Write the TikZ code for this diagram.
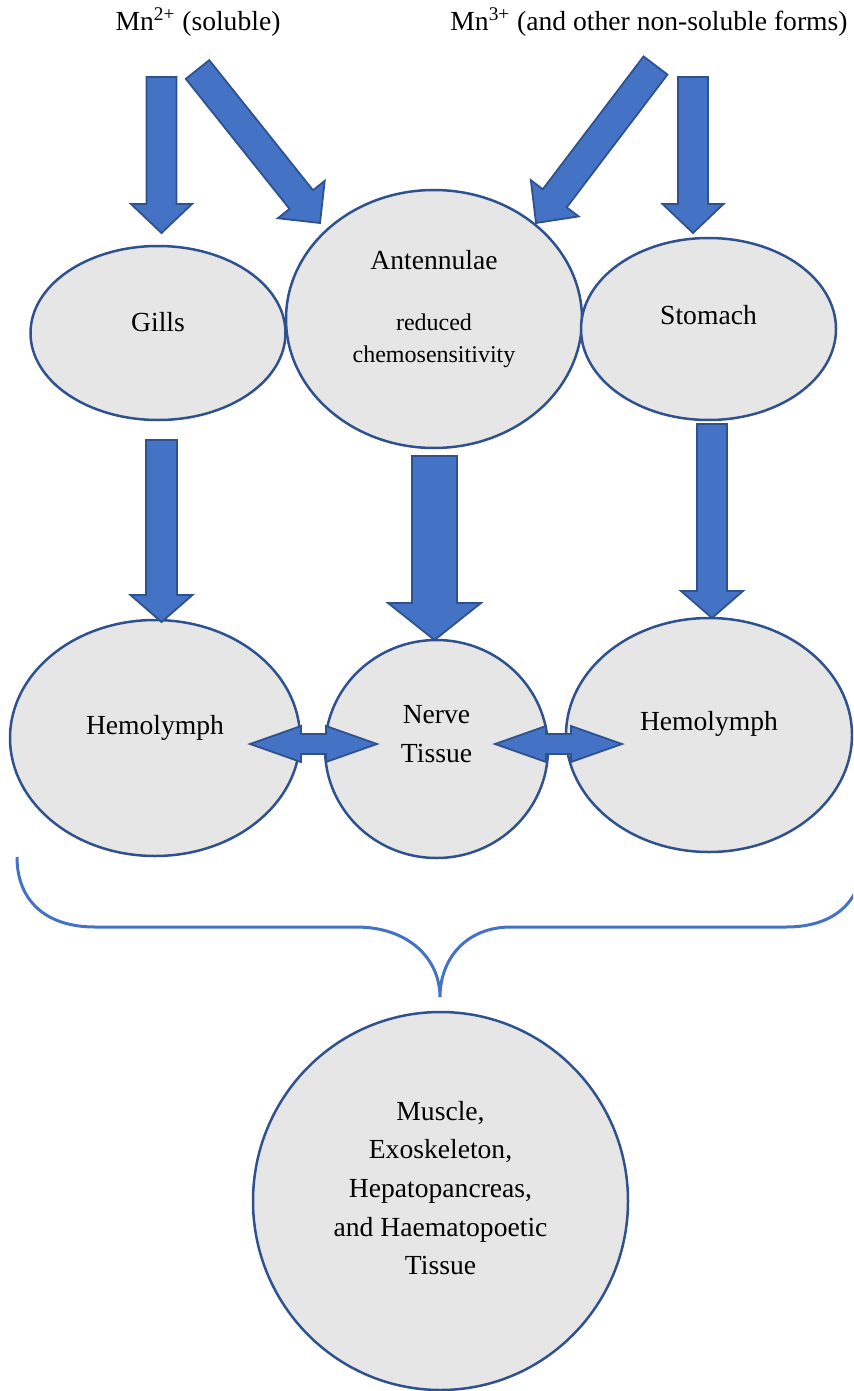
\documentclass[tikz,border=0pt]{standalone}
\usepackage{fontspec}
\setmainfont{Liberation Serif}
\newfontfamily\timesfont{Liberation Serif}
\usetikzlibrary{calc,shapes.geometric}

\definecolor{arrowblue}{HTML}{4472C4}
\definecolor{edgeblue}{HTML}{2F528F}
\definecolor{organgray}{HTML}{E7E6E6}

% block arrow: tail, tip, shaft half width, head half width, head length
\newcommand{\blockarrow}[5]{%
  \coordinate (bahead) at ($(#2)!#5!(#1)$);
  \filldraw[arrowbody] ($(#1)!#3!90:(#2)$) -- ($(bahead)!#3!90:(#2)$) -- ($(bahead)!#4!90:(#2)$) -- (#2)
    -- ($(bahead)!#4!-90:(#2)$) -- ($(bahead)!#3!-90:(#2)$) -- ($(#1)!#3!-90:(#2)$) -- cycle;
}
% double block arrow: left tip, right tip, shaft half width, head half width, head length
\newcommand{\dblarrow}[5]{%
  \coordinate (dahl) at ($(#1)!#5!(#2)$);
  \coordinate (dahr) at ($(#2)!#5!(#1)$);
  \filldraw[arrowbody] (#1) -- ($(dahl)!#4!90:(#2)$) -- ($(dahl)!#3!90:(#2)$) -- ($(dahr)!#3!-90:(#1)$)
    -- ($(dahr)!#4!-90:(#1)$) -- (#2) -- ($(dahr)!#4!90:(#1)$) -- ($(dahr)!#3!90:(#1)$)
    -- ($(dahl)!#3!-90:(#2)$) -- ($(dahl)!#4!-90:(#2)$) -- cycle;
}

\begin{document}
\begin{tikzpicture}[x=0.5pt, y=-0.5pt,
    organ/.style={ellipse, draw=edgeblue, fill=organgray, line width=1.25pt, inner sep=0pt},
    lbl/.style={font=\timesfont\fontsize{13.8}{19.3}\selectfont, inner sep=0pt, align=center},
    sublbl/.style={font=\timesfont\fontsize{12}{16}\selectfont, inner sep=0pt, align=center},
    arrowbody/.style={fill=arrowblue, draw=edgeblue, line width=0.9pt, line join=miter},
    bracket/.style={draw=arrowblue, line width=1.5pt}]
    \useasboundingbox (0,0) rectangle (853,1391);
    \clip (0,0) rectangle (853,1391);

    % Sources
    \node[lbl, anchor=base] (mnsol) at (198,31) {Mn\textsuperscript{2+} (soluble)};
    \node[lbl, anchor=base] (mninsol) at (649,31) {Mn\textsuperscript{3+} (and other non-soluble forms)};

    % Uptake organs
    \node[organ, minimum width=127.5pt, minimum height=87pt] (gills) at (158,333) {};
    \node[organ, minimum width=148pt, minimum height=129pt] (antenn) at (434,319) {};
    \node[organ, minimum width=127.5pt, minimum height=91pt] (stomach) at (708.5,329) {};
    \node[lbl, anchor=base] (gillslbl) at (158,331) {Gills};
    \node[lbl, anchor=base] (antennlbl) at (434,270) {Antennulae};
    \node[sublbl] (chemolbl) at (434,341) {reduced\\chemosensitivity};
    \node[lbl, anchor=base] (stomachlbl) at (708.5,324) {Stomach};

    % Internal compartments
    \node[organ, minimum width=145pt, minimum height=118pt] (hemoL) at (155,738) {};
    \node[organ, minimum width=111.5pt, minimum height=109pt] (nerve) at (436.5,749) {};
    \node[organ, minimum width=143pt, minimum height=117pt] (hemoR) at (709,735) {};
    \node[lbl, anchor=base] (hemoLlbl) at (155,734) {Hemolymph};
    \node[lbl] (nervelbl) at (436.5,734) {Nerve\\Tissue};
    \node[lbl, anchor=base] (hemoRlbl) at (709,730) {Hemolymph};

    % Storage tissues
    \node[organ, minimum width=187.5pt, minimum height=189pt] (tissues) at (440.5,1201) {};
    \node[lbl] (tissueslbl) at (440.5,1188) {Muscle,\\Exoskeleton,\\Hepatopancreas,\\and Haematopoetic\\Tissue};

    % Arrow end points
    \coordinate (solA) at (161.5,77);   \coordinate (gillsIn) at (161.5,233);
    \coordinate (solB) at (197.5,69.5); \coordinate (antIn1) at (320,223);
    \coordinate (insA) at (655.5,65.5); \coordinate (antIn2) at (536,223);
    \coordinate (insB) at (693,77);     \coordinate (stomIn) at (693,233);
    \coordinate (gillsOut) at (161.5,440); \coordinate (hemoLIn) at (161.5,622);
    \coordinate (antOut) at (434.5,456);   \coordinate (nerveIn) at (434.5,640);
    \coordinate (stomOut) at (712,424);    \coordinate (hemoRIn) at (712,618);
    \coordinate (exL1) at (250,744); \coordinate (exL2) at (377,744);
    \coordinate (exR1) at (495,744); \coordinate (exR2) at (622,744);

    % Uptake arrows
    \blockarrow{solA}{gillsIn}{7.5pt}{15.25pt}{14.5pt}
    \blockarrow{solB}{antIn1}{7.5pt}{15pt}{15pt}
    \blockarrow{insA}{antIn2}{7.5pt}{15pt}{15.5pt}
    \blockarrow{insB}{stomIn}{7.5pt}{15.25pt}{14.5pt}

    % Transfer arrows
    \blockarrow{gillsOut}{hemoLIn}{7.75pt}{15.5pt}{13.5pt}
    \blockarrow{antOut}{nerveIn}{11.25pt}{23.25pt}{18.5pt}
    \blockarrow{stomOut}{hemoRIn}{7.5pt}{15.5pt}{13.5pt}

    % Exchange arrows
    \dblarrow{exL1}{exL2}{5pt}{9pt}{25.5pt}
    \dblarrow{exR1}{exR2}{5pt}{9pt}{25.5pt}

    % Bracket
    \draw[bracket] (17,857) .. controls (17,900) and (45,927) .. (95,927) -- (356,927)
        .. controls (410,927) and (440,960) .. (440,997)
        .. controls (440,960) and (465,927) .. (511,927) -- (786,927)
        .. controls (836,927) and (863,900) .. (863,857);

\end{tikzpicture}
\end{document}
